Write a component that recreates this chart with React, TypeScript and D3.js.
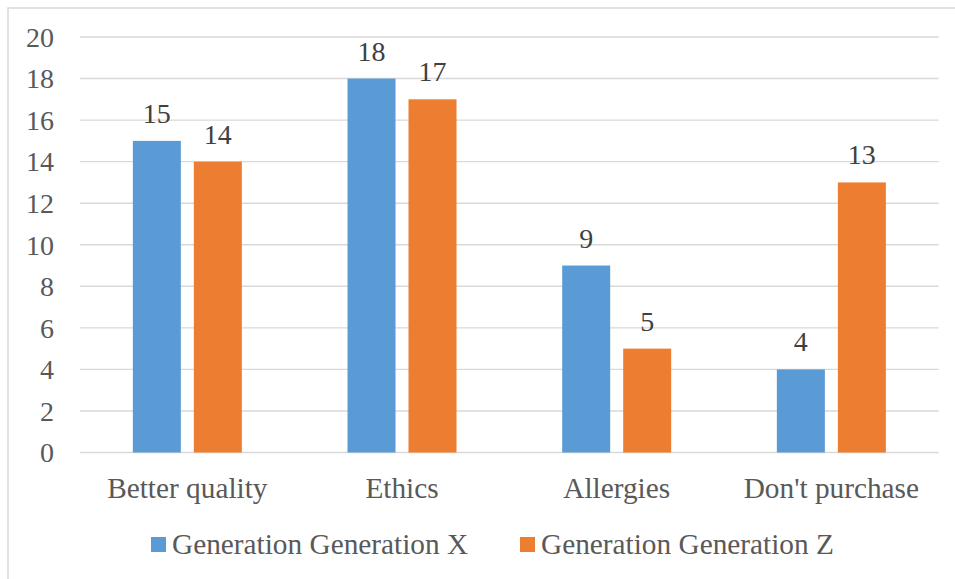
import React from "react";
import * as d3 from "d3";

const categories = ["Better quality", "Ethics", "Allergies", "Don't purchase"];
const seriesNames = ["Generation Generation X", "Generation Generation Z"];
const genX = [15, 18, 9, 4];
const genZ = [14, 17, 5, 13];
const yTicks = [0, 2, 4, 6, 8, 10, 12, 14, 16, 18, 20];
const colors = ["#5B9BD5", "#ED7D31"];

const W = 955;
const H = 579;
const FONT = "Liberation Serif, Times New Roman, Tinos, DejaVu Serif, serif";

export default function App() {
  const x = d3.scaleBand<string>().domain(categories).range([80, 938.7]);
  const y = d3.scaleLinear().domain([0, 20]).range([452.5, 37]);
  const series = [genX, genZ];
  const barW = 48;
  const offsets = [-30.5, 30.5];

  return (
    <svg
      width={W}
      height={H}
      style={{ position: "absolute", left: 0, top: 0, display: "block", background: "#fff", fontFamily: FONT }}
    >
      <rect x={8} y={8} width={1200} height={1200} fill="#fff" stroke="#D9D9D9" strokeWidth={1.5} />
      {yTicks.map((t) => (
        <g key={t}>
          <line x1={80} x2={938.7} y1={y(t)} y2={y(t)} stroke="#D9D9D9" strokeWidth={1.4} />
          <text x={54} y={y(t)} dy="0.35em" textAnchor="end" fontSize={28} fill="#595959" style={{ fontFamily: FONT }}>
            {t}
          </text>
        </g>
      ))}
      {series.map((vals, si) =>
        vals.map((v, i) => {
          const cx = (x(categories[i]) as number) + x.bandwidth() / 2 + offsets[si];
          return (
            <g key={si + "-" + i}>
              <rect
                x={cx - barW / 2}
                y={y(v)}
                width={barW}
                height={y(0) - y(v)}
                fill={colors[si]}
              />
              <text x={cx} y={y(v) - 18} textAnchor="middle" fontSize={28} fill="#404040" style={{ fontFamily: FONT }}>
                {v}
              </text>
            </g>
          );
        })
      )}
      {categories.map((c) => (
        <text
          key={c}
          x={(x(c) as number) + x.bandwidth() / 2}
          y={497.5}
          textAnchor="middle"
          fontSize={29.3}
          fill="#595959"
          style={{ fontFamily: FONT }}
        >
          {c}
        </text>
      ))}
      {seriesNames.map((n, i) => {
        const lx = [151, 520][i];
        return (
          <g key={n}>
            <rect x={lx} y={537} width={15} height={15} fill={colors[i]} />
            <text x={lx + 21} y={554} fontSize={29.3} fill="#595959" style={{ fontFamily: FONT }}>
              {n}
            </text>
          </g>
        );
      })}
    </svg>
  );
}
